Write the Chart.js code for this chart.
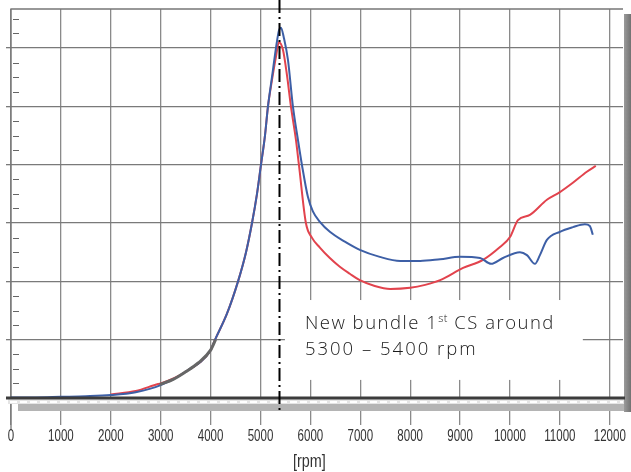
<!DOCTYPE html>
<html>
<head>
<meta charset="utf-8">
<script src="https://cdn.jsdelivr.net/npm/chart.js@4/dist/chart.umd.min.js"></script>
<style>
html,body{margin:0;padding:0;background:#fff;}
#wrap{width:631px;height:472px;position:relative;}
</style>
</head>
<body>
<div id="wrap"><canvas id="c" width="631" height="472"></canvas></div>
<script>
// ---- data ----
const xTicks = [0,1000,2000,3000,4000,5000,6000,7000,8000,9000,10000,11000,12000];
const xTitle = '[rpm]';
const blueRpm = [0,500,1000,1500,2000,2500,3000,3500,4000,4090,4330,4550,4710,4830,4930,5010,5090,5150,5230,5310,5370,5410,5470,5550,5650,5750,5830,5950,6050,6190,6390,6690,6990,7390,7800,8200,8600,9000,9400,9620,9860,10200,10340,10500,10600,10740,11000,11260,11500,11600,11660];
const blueAmp = [0.01,0.01,0.02,0.03,0.05,0.10,0.22,0.45,0.82,1.0,1.45,2.0,2.5,3.0,3.5,4.0,4.5,5.0,5.5,6.0,6.3,6.35,6.17,5.8,5.0,4.43,4.0,3.45,3.2,3.02,2.85,2.68,2.54,2.42,2.35,2.35,2.38,2.42,2.40,2.30,2.40,2.50,2.45,2.30,2.45,2.71,2.85,2.93,2.98,2.95,2.80];
const redRpm = [2000,2500,2950,3000,3500,4000,4090,4330,4550,4710,4830,4930,5010,5090,5150,5230,5310,5370,5450,5530,5610,5710,5770,5910,6030,6190,6390,6590,6790,6990,7290,7600,8000,8300,8600,9060,9460,9800,10000,10160,10400,10740,11000,11260,11540,11720];
const redAmp = [0.06,0.12,0.24,0.25,0.45,0.82,1.0,1.45,2.0,2.5,3.0,3.5,4.0,4.5,5.0,5.45,5.85,6.1,5.97,5.54,5.0,4.43,4.0,3.0,2.75,2.58,2.40,2.25,2.13,2.02,1.92,1.87,1.89,1.94,2.02,2.23,2.37,2.59,2.76,3.05,3.14,3.40,3.53,3.69,3.88,3.98];
const grayRpm = [2980,3250,3500,3750,4000,4100];
const grayAmp = [0.23,0.32,0.45,0.60,0.82,1.0];
const markerRpm = 5370;
const noteLines = ["New bundle 1", "st", " CS around", "5300 \u2013 5400 rpm"];

const toPts = (xs, ys) => xs.map((x, i) => ({x: x, y: ys[i]}));

const decor = {
  id: 'decor',
  beforeDatasetsDraw(chart) {
    const {ctx, chartArea: a, scales: {x, y}} = chart;
    ctx.save();
    // frame top + left
    ctx.strokeStyle = '#777';
    ctx.lineWidth = 1.3;
    ctx.beginPath();
    ctx.moveTo(a.left, 430); ctx.lineTo(a.left, a.top); ctx.lineTo(a.right, a.top);
    ctx.stroke();
    // minor ticks on left
    ctx.strokeStyle = '#666';
    ctx.lineWidth = 1;
    for (let v = 0.25; v < y.max; v += 0.25) {
      if (Math.abs(v - Math.round(v)) < 0.01) continue;
      const py = Math.round(y.getPixelForValue(v)) + 0.5;
      ctx.beginPath(); ctx.moveTo(a.left + 2, py); ctx.lineTo(a.left + 8, py); ctx.stroke();
    }
    // ruler band under axis
    const y0 = y.getPixelForValue(0);
    ctx.fillStyle = '#b4b4b4';
    ctx.fillRect(18, y0 + 6, a.right + 2 - 18, 7);
    ctx.fillStyle = '#e4e4e4';
    ctx.fillRect(8, y0 + 1, a.right - 6, 5);
    ctx.strokeStyle = '#ffffff';
    ctx.lineWidth = 2;
    ctx.setLineDash([7, 3]);
    ctx.beginPath(); ctx.moveTo(10, y0 + 4); ctx.lineTo(a.right, y0 + 4); ctx.stroke();
    ctx.setLineDash([]);
    // right dark bar
    const g = ctx.createLinearGradient(a.right, 0, 631, 0);
    g.addColorStop(0, '#a0a0a0'); g.addColorStop(1, '#727272');
    ctx.fillStyle = g;
    ctx.fillRect(a.right + 1, 14, 631 - a.right, y0);
    // x tick labels (condensed look)
    ctx.fillStyle = '#333';
    ctx.textAlign = 'center';
    ctx.textBaseline = 'middle';
    ctx.font = '16px "Liberation Sans"';
    xTicks.forEach(v => {
      const px = x.getPixelForValue(v);
      ctx.save(); ctx.translate(px, 437); ctx.scale(0.72, 1);
      ctx.fillText(String(v), 0, 0);
      ctx.restore();
    });
    ctx.save();
    ctx.translate((x.getPixelForValue(5000) + x.getPixelForValue(7000)) / 2 - 1, 462);
    ctx.scale(0.8, 1);
    ctx.font = '18px "Liberation Sans"';
    ctx.fillText(xTitle, 0, 0);
    ctx.restore();
    ctx.restore();
  },
  afterDatasetsDraw(chart) {
    const {ctx, chartArea: a, scales: {x, y}} = chart;
    ctx.save();
    const y0 = y.getPixelForValue(0);
    // thick axis line
    ctx.strokeStyle = '#3c3c3c';
    ctx.lineWidth = 3;
    ctx.beginPath(); ctx.moveTo(6, y0); ctx.lineTo(a.right + 2, y0); ctx.stroke();
    // white note box
    const bx = x.getPixelForValue(5490), bw = x.getPixelForValue(11460) - bx;
    const by = y.getPixelForValue(1.68), bh = y.getPixelForValue(0.31) - by;
    ctx.fillStyle = '#ffffff';
    ctx.fillRect(bx, by, bw, bh);
    ctx.fillStyle = '#1a1a1a';
    ctx.textBaseline = 'alphabetic';
    ctx.textAlign = 'left';
    const big = '300 18.5px "Open Sans"', small = '300 11px "Open Sans"';
    let tx = bx + 20, ty = by + 29;
    ctx.letterSpacing = '1.5px';
    ctx.font = big;
    ctx.fillText(noteLines[0], tx, ty);
    tx += ctx.measureText(noteLines[0]).width;
    ctx.font = small;
    ctx.letterSpacing = '0.5px';
    ctx.fillText(noteLines[1], tx, ty - 7);
    tx += ctx.measureText(noteLines[1]).width;
    ctx.font = big;
    ctx.letterSpacing = '1.5px';
    ctx.fillText(noteLines[2], tx, ty);
    ctx.letterSpacing = '2px';
    ctx.fillText(noteLines[3], bx + 20, ty + 26);
    ctx.letterSpacing = '0px';
    // dash-dot marker line
    const mx = Math.round(x.getPixelForValue(markerRpm)) + 0.5;
    ctx.strokeStyle = '#000';
    ctx.lineWidth = 2;
    ctx.setLineDash([13, 4, 2, 4]);
    ctx.beginPath(); ctx.moveTo(mx, 0); ctx.lineTo(mx, y0 + 14); ctx.stroke();
    ctx.restore();
  }
};

new Chart(document.getElementById('c'), {
  type: 'line',
  data: {
    datasets: [
      {label: 'gray', data: toPts(grayRpm, grayAmp), borderColor: '#666666', borderWidth: 3, pointRadius: 0, cubicInterpolationMode: 'monotone'},
      {label: 'blue', data: toPts(blueRpm, blueAmp), borderColor: '#3d5fa6', borderWidth: 2, pointRadius: 0, cubicInterpolationMode: 'monotone'},
      {label: 'red', data: toPts(redRpm, redAmp), borderColor: '#e2434d', borderWidth: 2, pointRadius: 0, cubicInterpolationMode: 'monotone'}
    ]
  },
  options: {
    responsive: false,
    animation: false,
    layout: {padding: {left: 0, right: 8, top: 9, bottom: 0}},
    plugins: {legend: {display: false}, tooltip: {enabled: false}},
    scales: {
      x: {
        type: 'linear', min: 0, max: 12265,
        afterBuildTicks: (s) => { s.ticks = xTicks.map(v => ({value: v})); },
        afterFit: (s) => { s.height = 74; },
        ticks: {display: false},
        grid: {color: '#8a8a8a', lineWidth: 1.3, tickLength: 27},
        border: {display: false}
      },
      y: {
        min: 0, max: 6.67,
        afterBuildTicks: (s) => { s.ticks = [0,1,2,3,4,5,6].map(v => ({value: v})); },
        afterFit: (s) => { s.width = 11; },
        ticks: {display: false},
        grid: {color: '#7a7a7a', lineWidth: 1.3, tickLength: 5},
        border: {display: false}
      }
    }
  },
  plugins: [decor]
});
</script>
</body>
</html>
